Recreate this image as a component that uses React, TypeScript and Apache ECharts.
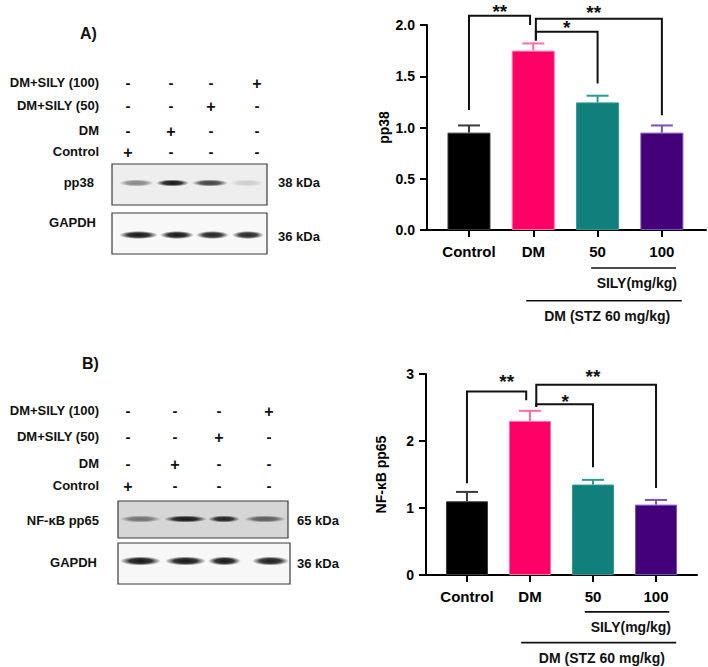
import React, { useEffect, useRef } from 'react';
import * as echarts from 'echarts';

// ---------- data ----------
const categories = ['Control', 'DM', '50', '100'];
const barColors = ['#000000', '#FF0066', '#117F7B', '#430079'];
const errColors = ['#3a3a3a', '#FF6EA8', '#2A9C98', '#7B52B9'];

const pp38Mean = [0.95, 1.75, 1.245, 0.95];
const pp38Upper = [1.02, 1.82, 1.31, 1.02];
const pp65Mean = [1.1, 2.3, 1.35, 1.05];
const pp65Upper = [1.24, 2.45, 1.42, 1.12];

const pp38Ticks = [0, 0.5, 1.0, 1.5, 2.0];
const pp65Ticks = [0, 1, 2, 3];

// brackets: [x1, x2, level, bottom1, bottom2, labelX, labelY]
const bracketsA = [
  [0, 0.95, 2.09, 1.17, 2.0, 0.48, 2.18],
  [1.04, 3, 2.06, 1.85, 1.12, 1.94, 2.17],
  [1.04, 2, 1.935, 1.85, 1.43, 1.52, 2.02],
];
const bracketsB = [
  [0, 0.94, 2.74, 1.37, 2.61, 0.63, 2.96],
  [1.1, 3, 2.84, 2.51, 1.3, 2.0, 3.03],
  [1.1, 2, 2.55, 2.51, 1.61, 1.56, 2.67],
];
const bracketStars = ['**', '**', '*'];

// group annotations below axis: [x1, x2, lineY, textX, textY]
const groupsA = [
  [1.9, 3.22, -0.37, 2.61, -0.52],
  [0.89, 3.31, -0.69, 2.15, -0.84],
];
const groupsB = [
  [1.87, 3.21, -0.55, 2.6, -0.78],
  [0.86, 3.32, -1.01, 2.14, -1.24],
];
const groupNames = ['SILY(mg/kg)', 'DM (STZ 60 mg/kg)'];

// western blot legend
const rowLabels = ['DM+SILY (100)', 'DM+SILY (50)', 'DM', 'Control'];
const signs = [
  ['-', '-', '-', '+'],
  ['-', '-', '+', '-'],
  ['-', '+', '-', '-'],
  ['+', '-', '-', '-'],
];
const pp38Bands = [0.45, 0.95, 0.75, 0.14];
const gapdhBandsA = [0.95, 0.95, 0.9, 0.88];
const pp65Bands = [0.5, 0.95, 0.9, 0.6];
const gapdhBandsB = [0.95, 0.95, 0.95, 0.92];

const FONT = '"Liberation Sans", Arial, Helvetica, sans-serif';

// ---------- blot panel drawing ----------
type Panel = {
  letter: string; letterX: number; letterY: number;
  rowRight: number; rowY: number[]; laneX: number[];
  boxes: { x: number; y: number; w: number; h: number; fill: string; bandY: number; bandH: number; spans: number[][]; bands: number[]; label: string; labelRight: number; labelY: number; kda: string; kdaX: number; kdaY: number }[];
};

function band(x1: number, x2: number, y: number, h: number, a: number) {
  return {
    type: 'ellipse',
    shape: { cx: (x1 + x2) / 2, cy: y, rx: (x2 - x1) / 2, ry: h / 2 },
    style: {
      fill: new echarts.graphic.RadialGradient(0.5, 0.5, 0.5, [
        { offset: 0, color: `rgba(10,10,10,${a})` },
        { offset: 0.55, color: `rgba(20,20,20,${a * 0.9})` },
        { offset: 1, color: 'rgba(30,30,30,0)' },
      ]),
    },
    silent: true,
  };
}

function text(t: string, x: number, y: number, size: number, align: string) {
  return {
    type: 'text',
    x, y,
    style: { text: t, fill: '#111', font: `bold ${size}px ${FONT}`, align, verticalAlign: 'middle' },
    silent: true,
  };
}

function panelGraphics(p: Panel) {
  const els: any[] = [];
  els.push(text(p.letter, p.letterX, p.letterY, 16, 'left'));
  rowLabels.forEach((l, r) => {
    els.push(text(l, p.rowRight, p.rowY[r], 13, 'right'));
    signs[r].forEach((s, k) => {
      els.push(text(s, p.laneX[k], p.rowY[r] + (s === '+' ? 1 : 0), s === '+' ? 16 : 15, 'center'));
    });
  });
  p.boxes.forEach((b) => {
    els.push({ type: 'rect', shape: { x: b.x, y: b.y, width: b.w, height: b.h }, style: { fill: b.fill, stroke: '#3a3a3a', lineWidth: 1.2 }, silent: true });
    b.spans.forEach((sp, k) => {
      els.push(band(sp[0], sp[1], b.bandY, b.bandH, b.bands[k]));
    });
    els.push(text(b.label, b.labelRight, b.labelY, 13, 'right'));
    els.push(text(b.kda, b.kdaX, b.kdaY, 13, 'left'));
  });
  return els;
}

const panelA: Panel = {
  letter: 'A)', letterX: 80, letterY: 33,
  rowRight: 99, rowY: [82, 105, 130, 151], laneX: [128, 171, 211, 257],
  boxes: [
    { x: 112, y: 164, w: 155, h: 41, fill: '#eeeeee', bandY: 183, bandH: 7, spans: [[119, 154], [156, 189], [192, 228], [230, 264]], bands: pp38Bands, label: 'pp38', labelRight: 94, labelY: 182, kda: '38 kDa', kdaX: 278, kdaY: 182 },
    { x: 112, y: 213, w: 155, h: 41, fill: '#f8f8f8', bandY: 235, bandH: 8, spans: [[119, 158], [160, 194], [196, 229], [232, 264]], bands: gapdhBandsA, label: 'GAPDH', labelRight: 96, labelY: 222, kda: '36 kDa', kdaX: 278, kdaY: 236 },
  ],
};

const panelB: Panel = {
  letter: 'B)', letterX: 82, letterY: 363,
  rowRight: 99, rowY: [410, 436, 463, 485], laneX: [128, 175, 219, 269],
  boxes: [
    { x: 118, y: 501, w: 170, h: 37, fill: '#d6d6d6', bandY: 519, bandH: 7, spans: [[120, 161], [164, 207], [208, 240], [244, 286]], bands: pp65Bands, label: 'NF-κB pp65', labelRight: 99, labelY: 520, kda: '65 kDa', kdaX: 297, kdaY: 520 },
    { x: 118, y: 543, w: 172, h: 41, fill: '#f7f7f7', bandY: 561, bandH: 9, spans: [[120, 161], [165, 206], [208, 241], [252, 289]], bands: gapdhBandsB, label: 'GAPDH', labelRight: 97, labelY: 562, kda: '36 kDa', kdaX: 297, kdaY: 563 },
  ],
};

// ---------- chart option helpers ----------
function xAxis(gridIndex: number, min: number, max: number) {
  return {
    type: 'value', gridIndex, min, max,
    axisLine: { show: true, onZero: false, lineStyle: { color: '#000', width: 2 } },
    axisTick: { show: true, customValues: [0, 1, 2, 3], length: 7, lineStyle: { color: '#000', width: 2 } },
    axisLabel: { customValues: [0, 1, 2, 3], formatter: (v: number) => categories[Math.round(v)] ?? '', color: '#000', fontSize: 15, fontWeight: 'bold', fontFamily: FONT, margin: 14 },
    splitLine: { show: false },
  };
}

function yAxis(gridIndex: number, ticks: number[], name: string, decimals: number, nameGap: number) {
  return {
    type: 'value', gridIndex, min: ticks[0], max: ticks[ticks.length - 1], interval: ticks[1] - ticks[0],
    name, nameLocation: 'middle', nameGap,
    nameTextStyle: { color: '#000', fontSize: 14, fontWeight: 'bold', fontFamily: FONT },
    axisLine: { show: true, onZero: false, lineStyle: { color: '#000', width: 2 } },
    axisTick: { show: true, length: 7, lineStyle: { color: '#000', width: 2 } },
    axisLabel: { formatter: (v: number) => v.toFixed(decimals), color: '#000', fontSize: 14, fontWeight: 'bold', fontFamily: FONT, margin: 12 },
    splitLine: { show: false },
  };
}

function barSeries(idx: number, mean: number[], width: number) {
  return {
    type: 'bar', xAxisIndex: idx, yAxisIndex: idx, barWidth: width,
    data: mean.map((m, i) => ({ value: [i, m], itemStyle: { color: barColors[i], borderColor: errColors[i], borderWidth: 1 } })),
    z: 2,
  };
}

function errSeries(idx: number, mean: number[], upper: number[]) {
  return {
    type: 'custom', xAxisIndex: idx, yAxisIndex: idx, clip: false, z: 3,
    data: mean.map((m, i) => [i, m, upper[i]]),
    renderItem: (params: any, api: any) => {
      const i = params.dataIndex;
      const p0 = api.coord([api.value(0), api.value(1)]);
      const p1 = api.coord([api.value(0), api.value(2)]);
      const c = errColors[i];
      return {
        type: 'group',
        children: [
          { type: 'line', shape: { x1: p0[0], y1: p0[1], x2: p1[0], y2: p1[1] }, style: { stroke: c, lineWidth: 2 } },
          { type: 'line', shape: { x1: p1[0] - 11, y1: p1[1], x2: p1[0] + 11, y2: p1[1] }, style: { stroke: c, lineWidth: 2 } },
        ],
      };
    },
  };
}

function bracketSeries(idx: number, data: number[][]) {
  return {
    type: 'custom', xAxisIndex: idx, yAxisIndex: idx, clip: false, z: 4,
    data,
    renderItem: (params: any, api: any) => {
      const i = params.dataIndex;
      const x1 = api.value(0), x2 = api.value(1), lv = api.value(2), b1 = api.value(3), b2 = api.value(4);
      const pts = [api.coord([x1, b1]), api.coord([x1, lv]), api.coord([x2, lv]), api.coord([x2, b2])];
      const lp = api.coord([api.value(5), api.value(6)]);
      return {
        type: 'group',
        children: [
          { type: 'polyline', shape: { points: pts }, style: { stroke: '#111', lineWidth: 2, fill: null } },
          { type: 'text', x: lp[0], y: lp[1] + 5, style: { text: bracketStars[i], fill: '#111', font: `bold 19px ${FONT}`, align: 'center', verticalAlign: 'middle' } },
        ],
      };
    },
  };
}

function groupSeries(idx: number, data: number[][]) {
  return {
    type: 'custom', xAxisIndex: idx, yAxisIndex: idx, clip: false, z: 4,
    data,
    renderItem: (params: any, api: any) => {
      const i = params.dataIndex;
      const a = api.coord([api.value(0), api.value(2)]);
      const b = api.coord([api.value(1), api.value(2)]);
      const t = api.coord([api.value(3), api.value(4)]);
      return {
        type: 'group',
        children: [
          { type: 'line', shape: { x1: a[0], y1: a[1], x2: b[0], y2: b[1] }, style: { stroke: '#111', lineWidth: 1.6 } },
          { type: 'text', x: t[0], y: t[1], style: { text: groupNames[i], fill: '#111', font: `bold 14px ${FONT}`, align: 'center', verticalAlign: 'middle' } },
        ],
      };
    },
  };
}

export default function App() {
  const ref = useRef<HTMLDivElement>(null);
  useEffect(() => {
    if (!ref.current) return;
    const chart = echarts.init(ref.current, undefined, { renderer: 'svg' });
    chart.setOption({
      animation: false,
      backgroundColor: '#ffffff',
      grid: [
        { left: 427, top: 25, width: 279, height: 205 },
        { left: 426, top: 374, width: 271, height: 201 },
      ],
      xAxis: [xAxis(0, -0.653, 3.686), xAxis(1, -0.65, 3.65)],
      yAxis: [yAxis(0, pp38Ticks, 'pp38', 1, 36), yAxis(1, pp65Ticks, 'NF-κB pp65', 0, 38)],
      series: [
        barSeries(0, pp38Mean, 43),
        errSeries(0, pp38Mean, pp38Upper),
        bracketSeries(0, bracketsA),
        groupSeries(0, groupsA),
        barSeries(1, pp65Mean, 42),
        errSeries(1, pp65Mean, pp65Upper),
        bracketSeries(1, bracketsB),
        groupSeries(1, groupsB),
      ],
      graphic: [...panelGraphics(panelA), ...panelGraphics(panelB)],
    });
    return () => chart.dispose();
  }, []);
  return <div ref={ref} style={{ position: 'fixed', left: 0, top: 0, width: 708, height: 667, background: '#fff' }} />;
}
